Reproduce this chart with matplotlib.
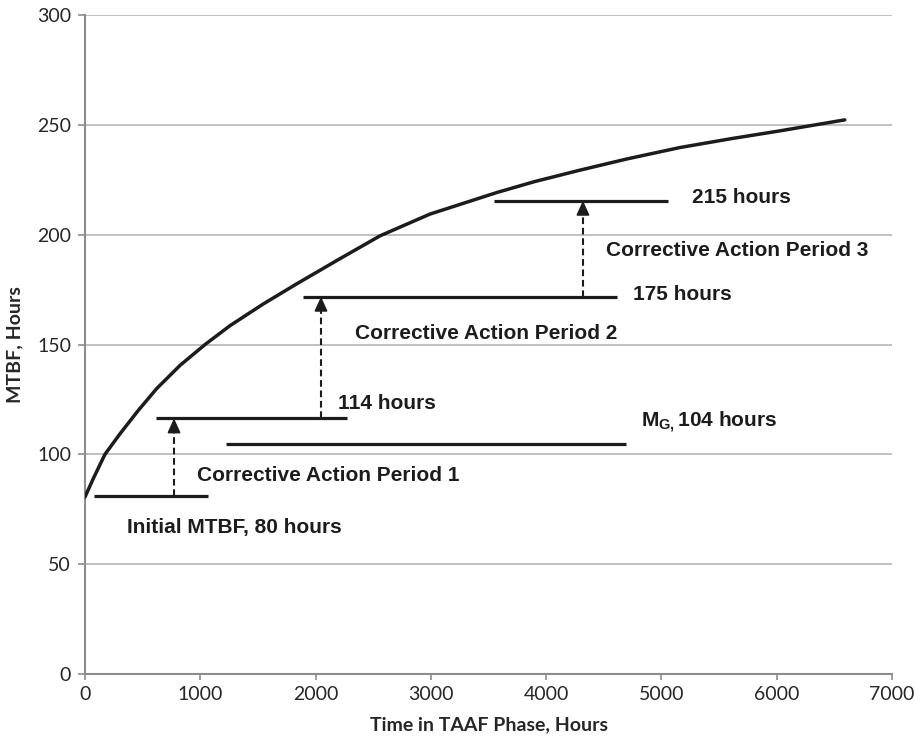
import matplotlib
matplotlib.use('Agg')
import matplotlib.pyplot as plt

plt.rcParams['mathtext.fontset'] = 'custom'
plt.rcParams['mathtext.rm'] = 'Liberation Sans:bold'

# growth curve
hours = [0, 72, 173, 304, 462, 621, 824, 1041, 1258, 1547, 1835, 2182, 2559,
         2992, 3571, 3900, 4293, 4700, 5160, 5600, 6028, 6590]
mtbf = [80.6, 89, 100, 109.4, 120, 129.9, 140.5, 150, 158.6, 168.5, 177.6, 188.2,
        199.5, 209.4, 219.2, 224.2, 229.4, 234.5, 239.7, 243.7, 247.3, 252.3]

# horizontal MTBF levels: (start, end, level)
seg_start = [78, 616, 1223, 1890, 3547]
seg_end = [1067, 2272, 4692, 4614, 5056]
seg_level = [81, 116.4, 104.5, 171.8, 215.5]

# dashed arrows: x, from, to
arrow_x = [772, 2047, 4319]
arrow_from = [81, 116.4, 171.8]
arrow_to = [116.4, 171.8, 215.5]

labels = ['Initial MTBF, 80 hours', 'Corrective Action Period 1', '114 hours',
          'Corrective Action Period 2', '175 hours', 'Corrective Action Period 3',
          '215 hours', r'M$_{\mathregular{G,}}$104 hours']
label_x = [365, 971, 2194, 2342, 4753, 4519, 5264, 4822]
label_y = [66.8, 90.5, 123, 155, 173, 193, 216.8, 114.5]

ink = '#1c1c1c'

fig = plt.figure(figsize=(9.15, 7.37), dpi=100)
ax = fig.add_axes([0.0929, 0.0855, 0.882, 0.894])

ax.plot(hours, mtbf, color=ink, lw=2.5, solid_capstyle='round',
        solid_joinstyle='round', zorder=3)
ax.hlines(seg_level, seg_start, seg_end, color=ink, lw=2.3, zorder=3)

for x, y0, y1 in zip(arrow_x, arrow_from, arrow_to):
    ax.plot([x, x], [y0, y1 - 4], color=ink, lw=1.5, dashes=(3.2, 1.8), zorder=3)
    ax.annotate('', xy=(x, y1), xytext=(x, y1 - 5),
                arrowprops=dict(arrowstyle='-|>,head_length=0.55,head_width=0.25',
                                color=ink, lw=1.2,
                                mutation_scale=16, shrinkA=0, shrinkB=0))

for t, x, y in zip(labels, label_x, label_y):
    ax.text(x, y, t, ha='left', va='center', fontsize=15, fontweight='bold',
            family='Liberation Sans', color=ink)

ax.set_xlim(0, 7000)
ax.set_ylim(0, 300)
ax.set_xticks(range(0, 7001, 1000))
ax.set_yticks(range(0, 301, 50))
ax.grid(axis='y', color='#b5b5b5', lw=1.2)
ax.set_axisbelow(True)
for s in ['top', 'right']:
    ax.spines[s].set_visible(False)
for s in ['left', 'bottom']:
    ax.spines[s].set_color('#8c8c8c')
    ax.spines[s].set_linewidth(1.5)
ax.tick_params(axis='both', direction='out', color='#8c8c8c', width=1.2,
               labelsize=14, labelcolor='#262626')
ax.tick_params(axis='y', length=5, pad=5)
ax.tick_params(axis='x', length=4, pad=5)
for lab in ax.get_xticklabels() + ax.get_yticklabels():
    lab.set_family('Lato')

ax.set_xlabel('Time in TAAF Phase, Hours', fontsize=14, fontweight='bold',
              family='Lato', color='#262626', labelpad=9)
ax.set_ylabel('MTBF, Hours', fontsize=14, fontweight='bold',
              family='Lato', color='#262626', labelpad=10)

fig.savefig('out.png', dpi=100)
